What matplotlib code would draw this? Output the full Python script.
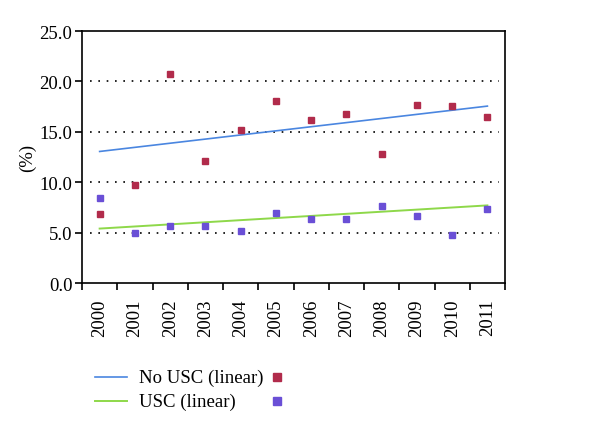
import numpy as np
import matplotlib
matplotlib.use("Agg")
import matplotlib.pyplot as plt
from matplotlib.lines import Line2D

# données
annees = ["2000", "2001", "2002", "2003", "2004", "2005",
          "2006", "2007", "2008", "2009", "2010", "2011"]
no_usc = [6.8, 9.7, 20.7, 12.1, 15.2, 18.1, 16.2, 16.8, 12.8, 17.7, 17.6, 16.5]
usc = [8.4, 5.0, 5.7, 5.7, 5.2, 6.9, 6.4, 6.4, 7.6, 6.6, 4.8, 7.3]

# tendances linéaires (valeurs en 2000 et 2011)
tend_no_usc = [13.05, 17.55]
tend_usc = [5.4, 7.7]

rouge = "#B12B4B"
violet = "#6A4FD6"
bleu = "#4A86E0"
vert = "#8ED84A"

plt.rcParams['font.family'] = ['Liberation Serif', 'DejaVu Serif']

fig = plt.figure(figsize=(6, 4.35), dpi=100)
ax = fig.add_axes([0.1367, 0.3471, 0.705, 0.5793])

x = np.arange(len(annees))
x_tend = [x[0], x[-1]]

ax.plot(x_tend, tend_no_usc, color=bleu, lw=1.2, zorder=3)
ax.plot(x_tend, tend_usc, color=vert, lw=1.4, zorder=3)

ax.plot(x, no_usc, 's', color=rouge, ms=4.3, ls='none', zorder=4)
ax.plot(x, usc, 's', color=violet, ms=4.3, ls='none', zorder=4)

# grille pointillée
for v in [5, 10, 15, 20]:
    ax.axhline(v, xmin=0.02, xmax=0.985, color='black', lw=1.2,
               ls=(0, (1, 4)), zorder=1)

ax.set_xlim(-0.5, len(annees) - 0.5)
ax.set_ylim(0, 25)
ax.set_yticks([0, 5, 10, 15, 20, 25])
ax.set_yticklabels([f"{v:.1f}" for v in [0, 5, 10, 15, 20, 25]], fontsize=13.5)
ax.set_xticks(np.arange(-0.5, len(annees), 1))
ax.set_xticklabels([])
ax.set_xticks(x, minor=True)
ax.set_xticklabels(annees, minor=True, rotation=90, fontsize=13.5)
ax.tick_params(axis='x', which='minor', length=0, pad=11)
ax.tick_params(axis='x', which='major', length=5, width=1.2, direction='out')
ax.tick_params(axis='y', length=5, width=1.2, direction='out', pad=2)
for s in ax.spines.values():
    s.set_linewidth(1.2)
ax.set_ylabel("(%)", fontsize=13.5, va='center')
ax.yaxis.set_label_coords(-0.13, 0.5)

# légende manuelle
fig.add_artist(Line2D([95 / 600, 127 / 600], [1 - 378 / 435] * 2, color=bleu, lw=1.2))
fig.add_artist(Line2D([95 / 600, 127 / 600], [1 - 402 / 435] * 2, color=vert, lw=1.4))
fig.text(139 / 600, 1 - 378 / 435, "No USC (linear)", fontsize=13.5, va='center')
fig.text(139 / 600, 1 - 402 / 435, "USC (linear)", fontsize=13.5, va='center')
fig.add_artist(Line2D([277 / 600], [1 - 378 / 435], marker='s', color=rouge, ms=5.5, ls='none'))
fig.add_artist(Line2D([277 / 600], [1 - 402 / 435], marker='s', color=violet, ms=5.5, ls='none'))

fig.savefig("out.png", dpi=100)
